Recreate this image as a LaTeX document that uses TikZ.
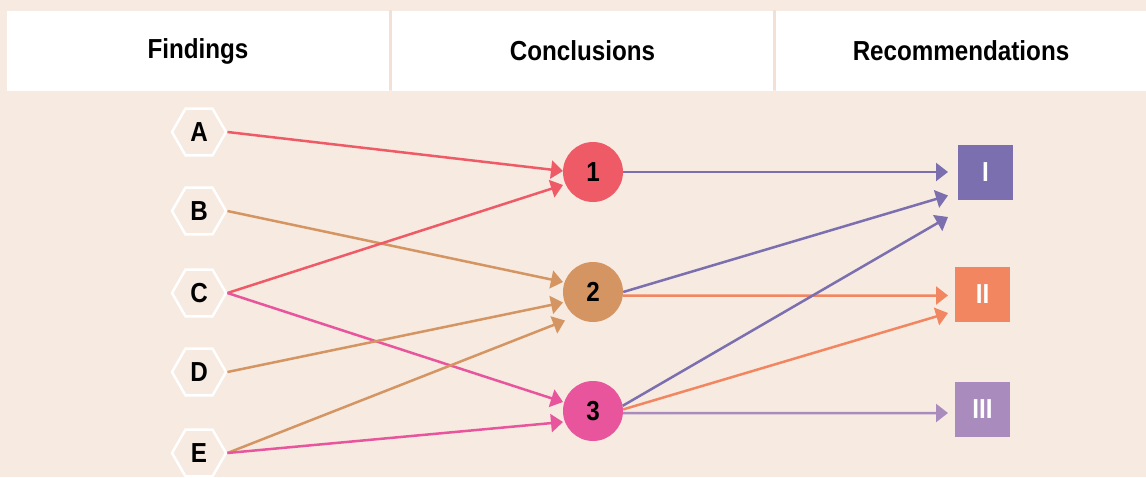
\documentclass[tikz,border=0pt]{standalone}
\usepackage{fontspec}
\setmainfont[FakeStretch=0.88]{Liberation Sans}
\usetikzlibrary{shapes.geometric,arrows.meta}
\definecolor{bg}{HTML}{F6EAE1}
\definecolor{sep}{HTML}{F3DFD3}
\definecolor{cred}{HTML}{EF5A67}
\definecolor{ctan}{HTML}{D49563}
\definecolor{cpink}{HTML}{E8559C}
\definecolor{cpurp}{HTML}{7B6FAF}
\definecolor{corange}{HTML}{F28660}
\definecolor{clav}{HTML}{A98BBD}
\newcommand{\lblfont}{\fontsize{27.5}{30}\selectfont\bfseries}
\begin{document}
\begin{tikzpicture}[x=1pt,y=-1pt,
  hdr/.style={rectangle,fill=white,draw=none,inner sep=0pt,minimum height=80pt,font=\lblfont},
  hexnode/.style={regular polygon,regular polygon sides=6,draw=white,line width=2.5pt,fill=bg,minimum size=54pt,inner sep=0pt,font=\lblfont},
  circnode/.style={circle,minimum size=60pt,inner sep=0pt,font=\lblfont,text=black},
  sqnode/.style={rectangle,minimum size=55pt,inner sep=0pt,font=\lblfont,text=white},
  conn/.style={line width=2.5pt,-{Triangle[length=12pt,width=18pt]}}]
\fill[bg] (0,0) rectangle (1146,477);
\useasboundingbox (0,0) rectangle (1146,477);
% headers
\fill[sep] (389,10) rectangle (392,90);
\fill[sep] (773,10) rectangle (776,90);
\node[hdr,minimum width=382pt] (h1) at (198,51) {Findings};
\node[hdr,minimum width=381pt] (h2) at (582.5,51) {Conclusions};
\node[hdr,minimum width=370pt] (h3) at (961,51) {Recommendations};
% findings
\node[hexnode] (A) at (199,132) {A};
\node[hexnode] (B) at (199,211) {B};
\node[hexnode] (C) at (199,293) {C};
\node[hexnode] (D) at (199,372) {D};
\node[hexnode] (E) at (199,453) {E};
% conclusions
\node[circnode,fill=cred] (n1) at (593,172) {1};
\node[circnode,fill=ctan] (n2) at (593,292) {2};
\node[circnode,fill=cpink] (n3) at (593,411) {3};
% recommendations
\node[sqnode,fill=cpurp] (r1) at (985.5,172.5) {I};
\node[sqnode,fill=corange] (r2) at (982.5,294.5) {II};
\node[sqnode,fill=clav] (r3) at (982.5,409.5) {III};
% arrow tip points
\coordinate (tA1) at (563,171);
\coordinate (tC1) at (563,185);
\coordinate (tB2) at (563,282);
\coordinate (tD2) at (563,302.5);
\coordinate (tE2) at (565,320.5);
\coordinate (tC3) at (563,402);
\coordinate (tE3) at (563,422);
\coordinate (t1I) at (948,172);
\coordinate (t2I) at (948,195.5);
\coordinate (t3I) at (948,217);
\coordinate (t2II) at (948,295.5);
\coordinate (t3II) at (948,313);
\coordinate (t3III) at (948,413);
% findings -> conclusions
\draw[conn,cred] (A.east) -- (tA1);
\draw[conn,ctan] (B.east) -- (tB2);
\draw[conn,cred] (C.east) -- (tC1);
\draw[conn,cpink] (C.east) -- (tC3);
\draw[conn,ctan] (D.east) -- (tD2);
\draw[conn,ctan] (E.east) -- (tE2);
\draw[conn,cpink] (E.east) -- (tE3);
% conclusions -> recommendations
\draw[conn,cpurp] (n1.east) -- (t1I);
\draw[conn,cpurp] (n2.east) -- (t2I);
\draw[conn,corange] (n2.-7) -- (t2II);
\draw[conn,cpurp] (n3.10) -- (t3I);
\draw[conn,corange] (n3.3) -- (t3II);
\draw[conn,clav] (n3.-4) -- (t3III);
\end{tikzpicture}
\end{document}
